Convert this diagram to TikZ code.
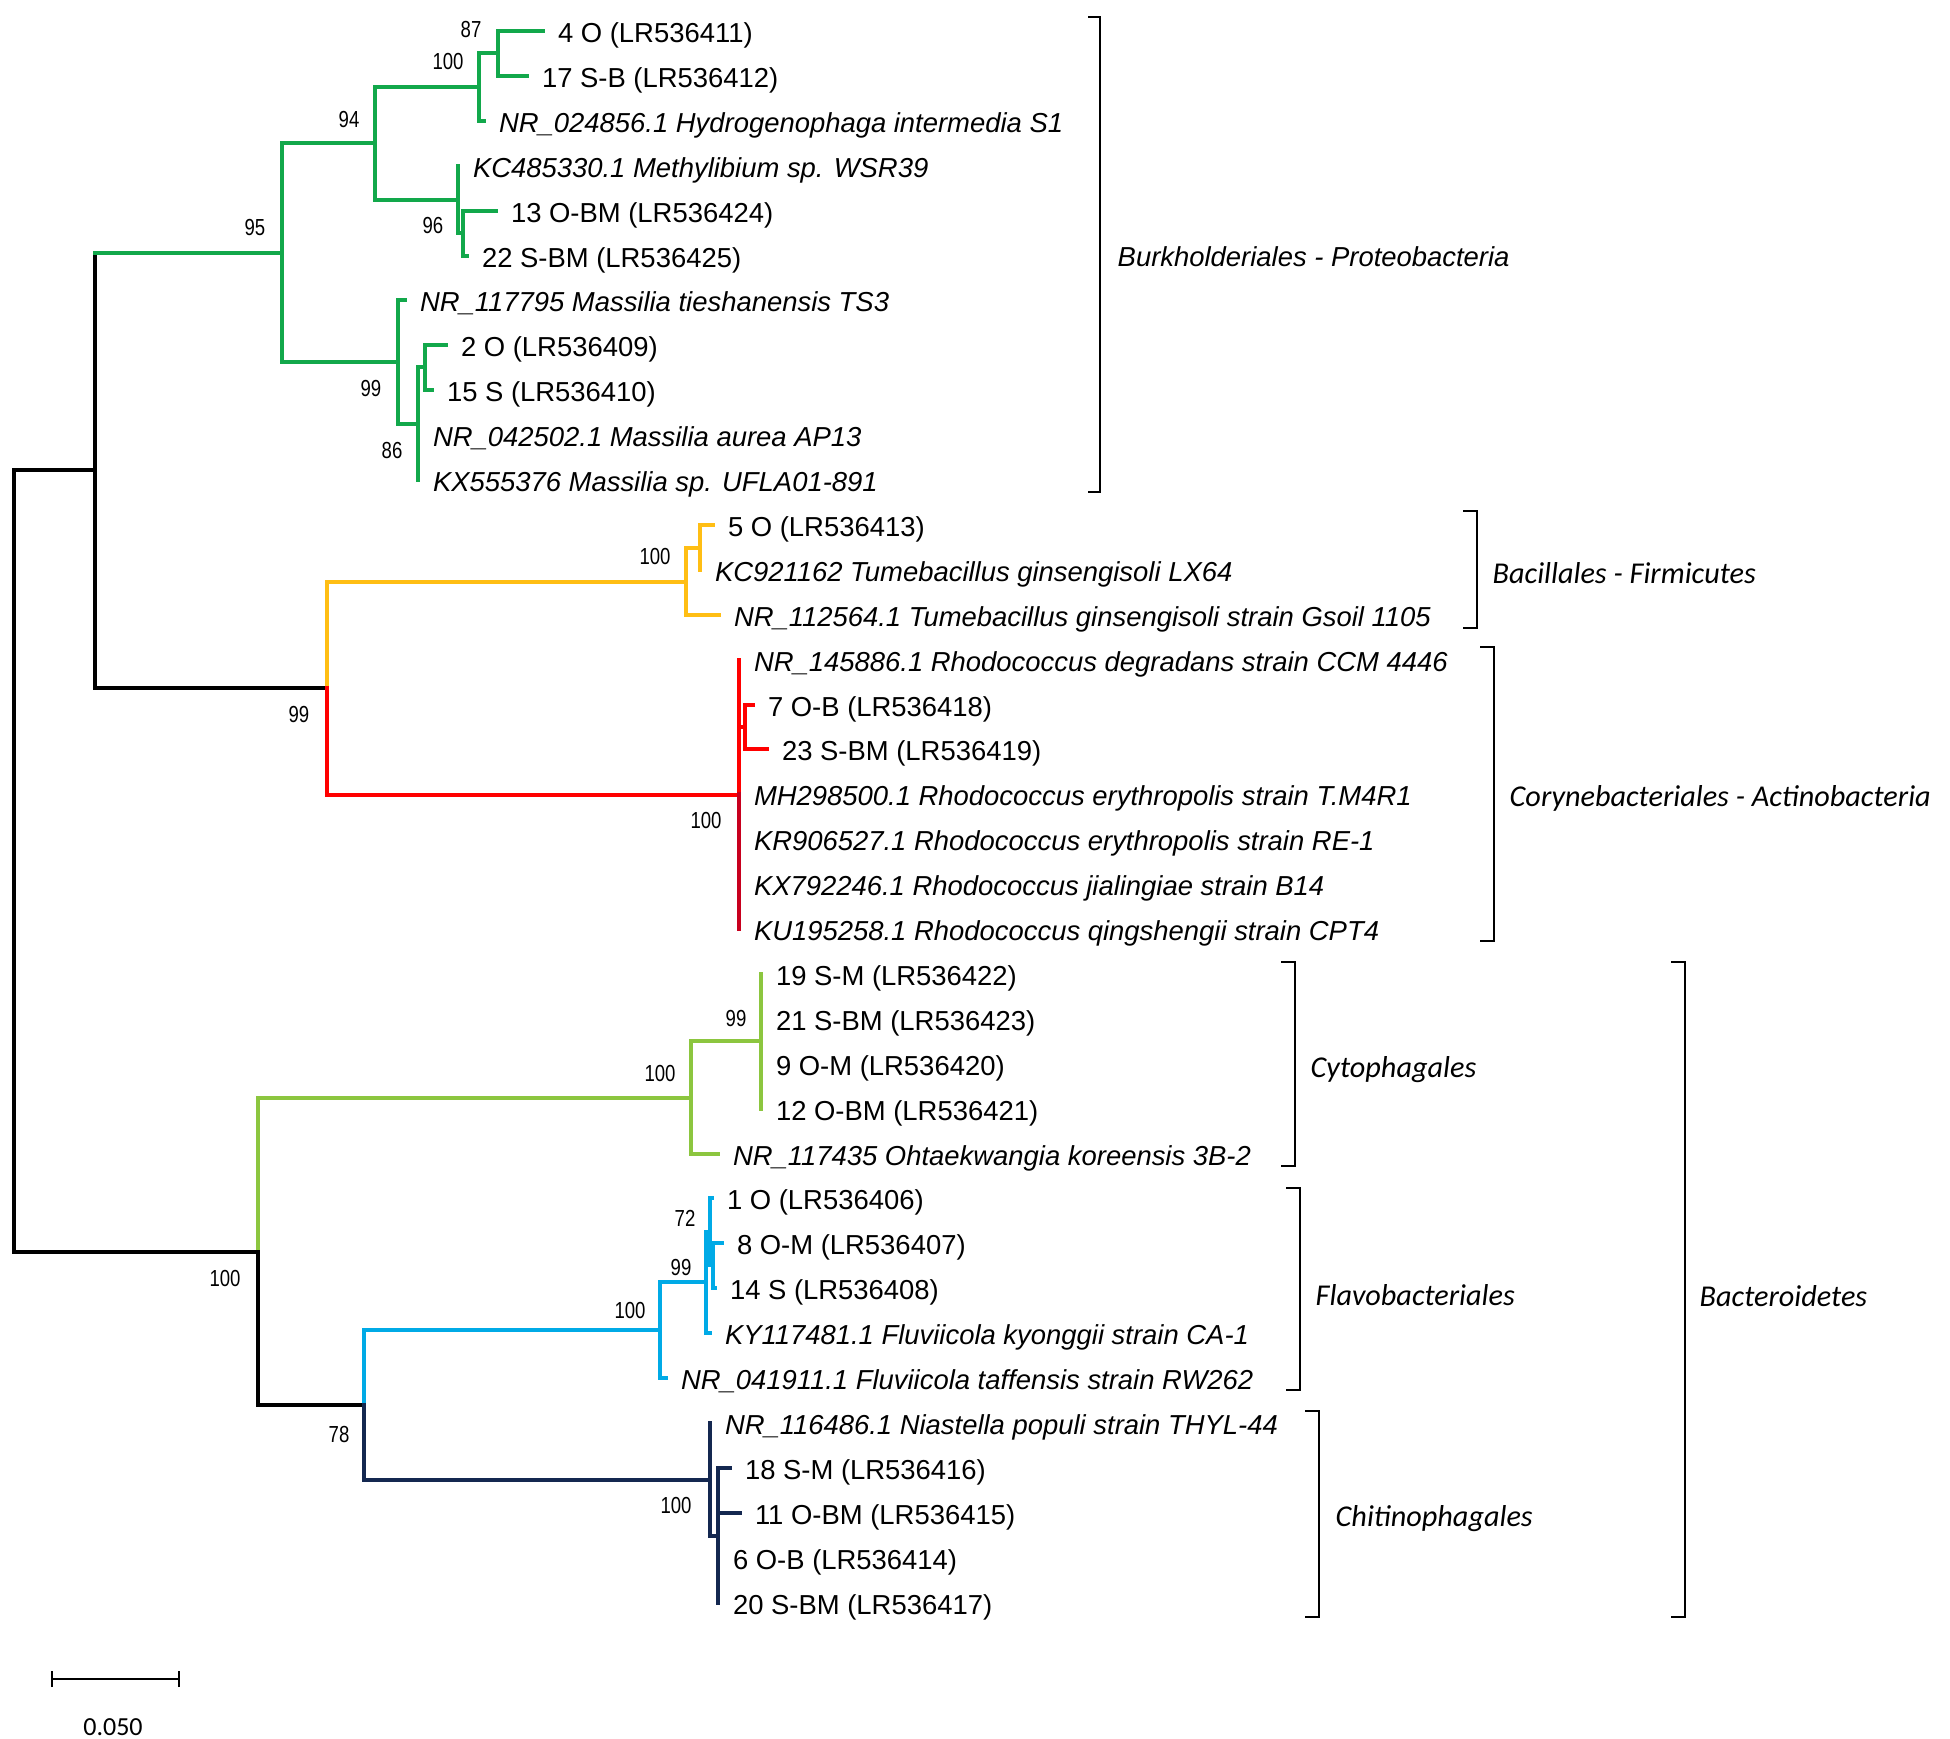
\documentclass[tikz,border=0pt]{standalone}
\usepackage{fontspec}
\setmainfont{Liberation Sans}
\newfontfamily\cladefont{Carlito}
\newfontfamily\bootfont{Liberation Sans}[FakeStretch=0.8]
\definecolor{grn}{RGB}{18,168,75}
\definecolor{yel}{RGB}{255,190,20}
\definecolor{rd}{RGB}{255,0,0}
\definecolor{drd}{RGB}{200,0,30}
\definecolor{lgrn}{RGB}{140,198,63}
\definecolor{cyn}{RGB}{0,170,230}
\definecolor{nvy}{RGB}{20,40,80}
\begin{document}
\begin{tikzpicture}[x=0.01cm, y=-0.01cm,
  br/.style={line width=1.25pt, line cap=rect},
  leaf/.style={anchor=west, inner xsep=0.15cm, inner ysep=0pt, outer sep=0pt,
    font=\fontsize{7.8}{9}\selectfont, text height=1.5ex, text depth=.25ex},
  ref/.style={leaf, font=\fontsize{7.8}{9}\selectfont\itshape},
  boot/.style={inner sep=0pt, font=\bootfont\fontsize{6.6}{7}\selectfont},
  clade/.style={anchor=west, inner sep=0pt, font=\fontsize{7.8}{9}\selectfont\itshape},
  cladeb/.style={anchor=west, inner sep=0pt, font=\cladefont\fontsize{8.6}{10}\selectfont\itshape},
  brk/.style={line width=0.6pt}]
\useasboundingbox (0,0) rectangle (1950,1739);
% internal nodes
\coordinate (root) at (14,861);
\coordinate (T1) at (95,470);
\coordinate (T2) at (327,688);
\coordinate (n95) at (282,253);
\coordinate (n94) at (375,143);
\coordinate (n100a) at (479,87);
\coordinate (n87) at (498,53);
\coordinate (nA) at (458,200);
\coordinate (nB) at (463,233);
\coordinate (n99a) at (398,362);
\coordinate (n86) at (418,424);
\coordinate (nC) at (425,367);
\coordinate (n100y) at (686,582);
\coordinate (nD) at (700,548);
\coordinate (n100r) at (739,795);
\coordinate (nE) at (745,727);
\coordinate (B1) at (258,1252);
\coordinate (n100c) at (691,1098);
\coordinate (n99c) at (761,1041);
\coordinate (B2) at (364,1405);
\coordinate (n100f) at (660,1330);
\coordinate (n99f) at (706,1282);
\coordinate (n72) at (710,1232);
\coordinate (nG) at (713,1265);
\coordinate (n100n) at (710,1480);
\coordinate (nI) at (718,1536);
% leaves
\node[leaf] (t0) at (543,31) {4 O (LR536411)};
\node[leaf] (t1) at (527,76) {17 S-B (LR536412)};
\node[ref] (t2) at (484,121) {NR\_024856.1 Hydrogenophaga intermedia S1};
\node[ref] (t3) at (458,166) {KC485330.1 Methylibium sp. WSR39};
\node[leaf] (t4) at (496,211) {13 O-BM (LR536424)};
\node[leaf] (t5) at (467,256) {22 S-BM (LR536425)};
\node[ref] (t6) at (405,300) {NR\_117795 Massilia tieshanensis TS3};
\node[leaf] (t7) at (446,345) {2 O (LR536409)};
\node[leaf] (t8) at (432,390) {15 S (LR536410)};
\node[ref] (t9) at (418,435) {NR\_042502.1 Massilia aurea AP13};
\node[ref] (t10) at (418,480) {KX555376 Massilia sp. UFLA01-891};
\node[leaf] (t11) at (713,525) {5 O (LR536413)};
\node[ref] (t12) at (700,570) {KC921162 Tumebacillus ginsengisoli LX64};
\node[ref] (t13) at (719,615) {NR\_112564.1 Tumebacillus ginsengisoli strain Gsoil 1105};
\node[ref] (t14) at (739,660) {NR\_145886.1 Rhodococcus degradans strain CCM 4446};
\node[leaf] (t15) at (753,705) {7 O-B (LR536418)};
\node[leaf] (t16) at (767,749) {23 S-BM (LR536419)};
\node[ref] (t17) at (739,794) {MH298500.1 Rhodococcus erythropolis strain T.M4R1};
\node[ref] (t18) at (739,839) {KR906527.1 Rhodococcus erythropolis strain RE-1};
\node[ref] (t19) at (739,884) {KX792246.1 Rhodococcus jialingiae strain B14};
\node[ref] (t20) at (739,929) {KU195258.1 Rhodococcus qingshengii strain CPT4};
\node[leaf] (t21) at (761,974) {19 S-M (LR536422)};
\node[leaf] (t22) at (761,1019) {21 S-BM (LR536423)};
\node[leaf] (t23) at (761,1064) {9 O-M (LR536420)};
\node[leaf] (t24) at (761,1109) {12 O-BM (LR536421)};
\node[ref] (t25) at (718,1154) {NR\_117435 Ohtaekwangia koreensis 3B-2};
\node[leaf] (t26) at (712,1198) {1 O (LR536406)};
\node[leaf] (t27) at (722,1243) {8 O-M (LR536407)};
\node[leaf] (t28) at (715,1288) {14 S (LR536408)};
\node[ref] (t29) at (710,1333) {KY117481.1 Fluviicola kyonggii strain CA-1};
\node[ref] (t30) at (666,1378) {NR\_041911.1 Fluviicola taffensis strain RW262};
\node[ref] (t31) at (710,1423) {NR\_116486.1 Niastella populi strain THYL-44};
\node[leaf] (t32) at (730,1468) {18 S-M (LR536416)};
\node[leaf] (t33) at (740,1513) {11 O-BM (LR536415)};
\node[leaf] (t34) at (718,1558) {6 O-B (LR536414)};
\node[leaf] (t35) at (718,1603) {20 S-BM (LR536417)};
% backbone
\draw[br] (root) |- (T1);
\draw[br] (root) |- (B1);
\draw[br] (T1) -- (T1 |- n95);
\draw[br, grn] (T1 |- n95) -- (n95);
\draw[br] (T1) |- (T2);
\draw[br, lgrn] (B1) |- (n100c);
\draw[br] (B1) |- (B2);
\draw[br, cyn] (B2) |- (n100f);
\draw[br, nvy] (B2) |- (n100n);
% Burkholderiales
\draw[br, grn] (n95) |- (n94);
\draw[br, grn] (n95) |- (n99a);
\draw[br, grn] (n94) |- (n100a);
\draw[br, grn] (n94) |- (nA);
\draw[br, grn] (n100a) |- (n87);
\draw[br, grn] (n100a) |- (t2.west);
\draw[br, grn] (n87) |- (t0.west);
\draw[br, grn] (n87) |- (t1.west);
\draw[br, grn] (nA) |- (t3.west);
\draw[br, grn] (nA) |- (nB);
\draw[br, grn] (nB) |- (t4.west);
\draw[br, grn] (nB) |- (t5.west);
\draw[br, grn] (n99a) |- (t6.west);
\draw[br, grn] (n99a) |- (n86);
\draw[br, grn] (n86) |- (nC);
\draw[br, grn] (n86) |- (t9.west);
\draw[br, grn] (n86) |- (t10.west);
\draw[br, grn] (nC) |- (t7.west);
\draw[br, grn] (nC) |- (t8.west);
% Bacillales
\draw[br, yel] (T2) |- (n100y);
\draw[br, yel] (n100y) |- (nD);
\draw[br, yel] (n100y) |- (t13.west);
\draw[br, yel] (nD) |- (t11.west);
\draw[br, yel] (nD) |- (t12.west);
% Corynebacteriales
\draw[br, rd] (T2) |- (n100r);
\draw[br, rd] (n100r) |- (t14.west);
\draw[br, rd] (n100r) |- (nE);
\draw[br, rd] (nE) |- (t15.west);
\draw[br, rd] (nE) |- (t16.west);
\draw[br, drd] (n100r) |- (t17.west);
\draw[br, drd] (n100r) |- (t18.west);
\draw[br, drd] (n100r) |- (t19.west);
\draw[br, drd] (n100r) |- (t20.west);
% Cytophagales
\draw[br, lgrn] (n100c) |- (n99c);
\draw[br, lgrn] (n100c) |- (t25.west);
\draw[br, lgrn] (n99c) |- (t21.west);
\draw[br, lgrn] (n99c) |- (t22.west);
\draw[br, lgrn] (n99c) |- (t23.west);
\draw[br, lgrn] (n99c) |- (t24.west);
% Flavobacteriales
\draw[br, cyn] (n100f) |- (n99f);
\draw[br, cyn] (n100f) |- (t30.west);
\draw[br, cyn] (n99f) |- (n72);
\draw[br, cyn] (n99f) |- (t29.west);
\draw[br, cyn] (n72) |- (t26.west);
\draw[br, cyn] (n72) |- (nG);
\draw[br, cyn] (nG) |- (t27.west);
\draw[br, cyn] (nG) |- (t28.west);
% Chitinophagales
\draw[br, nvy] (n100n) |- (t31.west);
\draw[br, nvy] (n100n) |- (nI);
\draw[br, nvy] (nI) |- (t32.west);
\draw[br, nvy] (nI) |- (t33.west);
\draw[br, nvy] (nI) |- (t34.west);
\draw[br, nvy] (nI) |- (t35.west);
% bootstrap values
\node[boot] (b87) at (471,30) {87};
\node[boot] (b100a) at (448,62) {100};
\node[boot] (b94) at (349,120) {94};
\node[boot] (b95) at (255,228) {95};
\node[boot] (b96) at (433,226) {96};
\node[boot] (b99a) at (371,389) {99};
\node[boot] (b86) at (392,451) {86};
\node[boot] (b100y) at (655,557) {100};
\node[boot] (b99t) at (299,715) {99};
\node[boot] (b100r) at (706,821) {100};
\node[boot] (b99c) at (736,1019) {99};
\node[boot] (b100c) at (660,1074) {100};
\node[boot] (b100b) at (225,1279) {100};
\node[boot] (b72) at (685,1218) {72};
\node[boot] (b99f) at (681,1268) {99};
\node[boot] (b100f) at (630,1310) {100};
\node[boot] (b78) at (339,1434) {78};
\node[boot] (b100n) at (676,1506) {100};
% clade brackets
\draw[brk] (1088,17) -- (1100,17) -- (1100,492) -- (1088,492);
\node[clade] (cBurk) at (1117,257) {Burkholderiales - Proteobacteria};
\draw[brk] (1463,511) -- (1477,511) -- (1477,628) -- (1463,628);
\node[cladeb] (cBac) at (1492,573) {Bacillales - Firmicutes};
\draw[brk] (1480,647) -- (1494,647) -- (1494,941) -- (1480,941);
\node[cladeb] (cCor) at (1509,798) {Corynebacteriales - Actinobacteria};
\draw[brk] (1281,962) -- (1295,962) -- (1295,1166) -- (1281,1166);
\node[cladeb] (cCyt) at (1310,1070) {Cytophagales};
\draw[brk] (1286,1188) -- (1300,1188) -- (1300,1390) -- (1286,1390);
\node[cladeb] (cFla) at (1315,1295) {Flavobacteriales};
\draw[brk] (1305,1411) -- (1319,1411) -- (1319,1617) -- (1305,1617);
\node[cladeb] (cChi) at (1335,1519) {Chitinophagales};
\draw[brk] (1671,962) -- (1685,962) -- (1685,1617) -- (1671,1617);
\node[cladeb] (cBct) at (1699,1296) {Bacteroidetes};
% scale bar
\coordinate (sb0) at (52,1679);
\coordinate (sb1) at (179,1679);
\draw[brk, line width=0.8pt] (sb0) -- (sb1);
\draw[brk] ([yshift=-0.08cm]sb0) -- ([yshift=0.08cm]sb0);
\draw[brk] ([yshift=-0.08cm]sb1) -- ([yshift=0.08cm]sb1);
\node[inner sep=0pt, font=\cladefont\fontsize{7.4}{9}\selectfont] (sbl) at (113,1727) {0.050};
\end{tikzpicture}
\end{document}
